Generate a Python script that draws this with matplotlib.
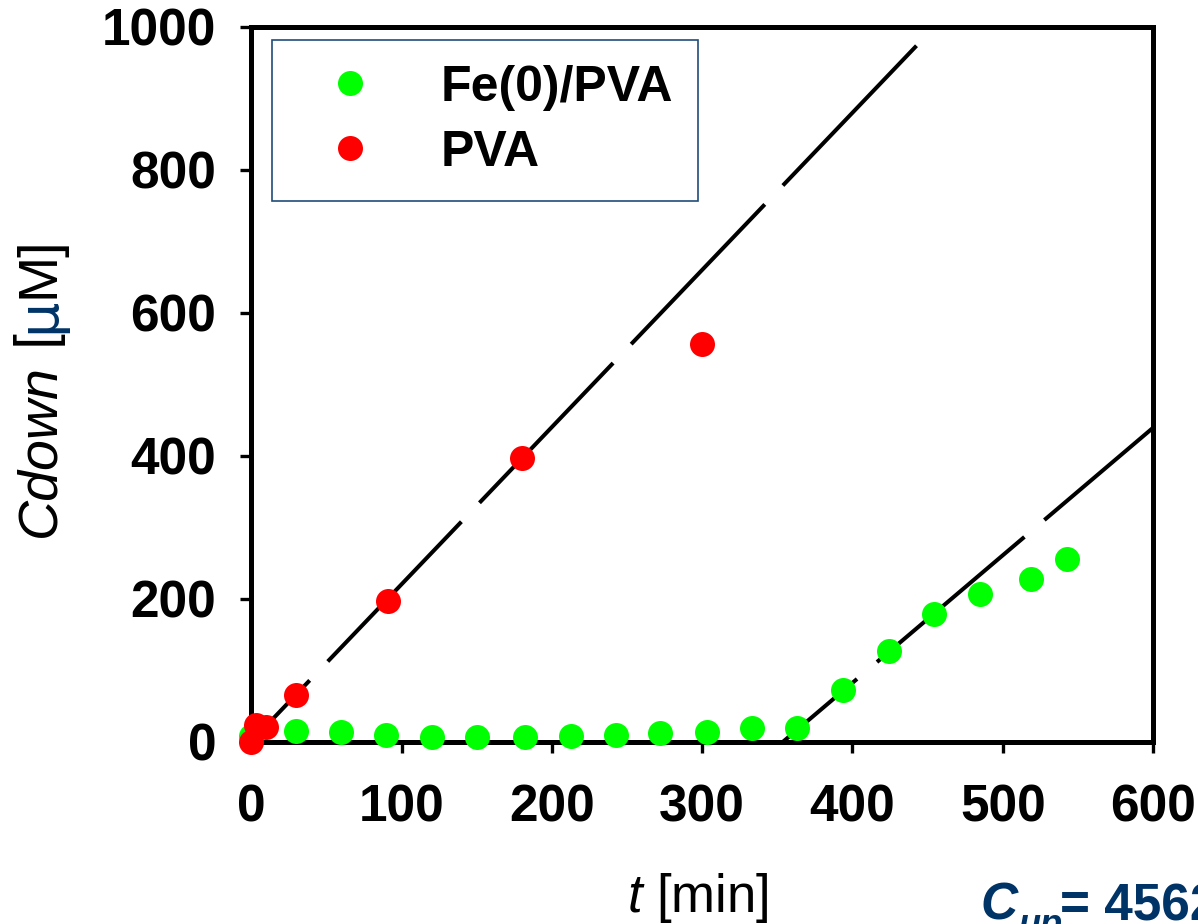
import matplotlib
matplotlib.use("Agg")
import matplotlib.pyplot as plt
import numpy as np

plt.rcParams['font.family'] = ['Liberation Sans', 'DejaVu Sans']
plt.rcParams['mathtext.fontset'] = 'custom'
plt.rcParams['mathtext.it'] = 'Liberation Sans:italic'
plt.rcParams['mathtext.rm'] = 'Liberation Sans'

# Fe(0)/PVA series
t_fe = [0, 30, 60, 90, 120, 150, 182, 213, 243, 272, 303, 333, 363,
        394, 424, 454, 485, 519, 543]
c_fe = [8, 15, 13, 9, 7, 7, 6, 8, 9, 12, 14, 19, 19,
        72, 127, 179, 206, 227, 255]

# PVA series
t_pva = [0, 3, 10, 30, 91, 180, 300]
c_pva = [0, 23, 21, 65, 196, 397, 557]

# dashed fit lines: slope [uM/min] and start time [min]
fit_pva_slope, fit_pva_t0 = 2.2, 0.0
fit_fe_slope, fit_fe_t0 = 1.785, 354.0

xticks = [0, 100, 200, 300, 400, 500, 600]
yticks = [0, 200, 400, 600, 800, 1000]

navy = '#003366'

fig = plt.figure(figsize=(11.98, 9.24), dpi=100)
ax = fig.add_axes([0.2097, 0.1975, 0.7528, 0.7733])

# fit lines
tt = np.array([fit_pva_t0, 600])
ax.plot(tt, fit_pva_slope * (tt - fit_pva_t0), color='black', lw=2.9,
        linestyle=(27, (48, 6.5)), zorder=2)
tt = np.array([fit_fe_t0, 600])
ax.plot(tt, fit_fe_slope * (tt - fit_fe_t0), color='black', lw=2.9,
        linestyle=(24, (48, 6.5)), zorder=2)

ax.plot(t_fe, c_fe, 'o', color='#00ff00', ms=18, mec='none', label='Fe(0)/PVA',
        zorder=3, clip_on=False)
ax.plot(t_pva, c_pva, 'o', color='#ff0000', ms=18, mec='none', label='PVA',
        zorder=4, clip_on=False)

ax.set_xlim(0, 600)
ax.set_ylim(0, 1000)
ax.set_xticks(xticks)
ax.set_yticks(yticks)
for sp in ax.spines.values():
    sp.set_linewidth(3.6)
ax.tick_params(axis='x', direction='out', length=8, width=2.4, pad=22, labelsize=37)
ax.tick_params(axis='y', direction='out', length=8, width=2.4, pad=17, labelsize=37)
for lab in ax.get_xticklabels() + ax.get_yticklabels():
    lab.set_fontweight('bold')

leg = ax.legend(loc='upper left', bbox_to_anchor=(0.0233, 0.9818), borderaxespad=0,
                prop={'size': 36, 'weight': 'bold'}, frameon=True, fancybox=False,
                framealpha=1, borderpad=0.5, handlelength=2.12, handletextpad=0.74,
                labelspacing=0.38)
leg.get_frame().set_edgecolor('#1F4E79')
leg.get_frame().set_linewidth(1.2)

# x label
fig.text(0.5236, 0.013, r'$t$ [min]', fontsize=38, ha='left', va='baseline')

# y label built from pieces
fig.canvas.draw()
renderer = fig.canvas.get_renderer()
pieces = [('Cdown', 'italic', 'black', ['Liberation Sans']),
          (' [', 'normal', 'black', ['Liberation Sans']),
          ('\u03bc', 'normal', navy, ['DejaVu Sans']),
          ('M]', 'normal', 'black', ['Liberation Sans'])]
ypos = 387
xbase = 54
for txt, style, col, fam in pieces:
    tobj = fig.text(xbase / 1198, ypos / 924, txt, rotation=90, rotation_mode='anchor',
                    ha='left', va='baseline', fontsize=40, style=style, color=col,
                    family=fam)
    bb = tobj.get_window_extent(renderer)
    ypos = bb.y1

# bottom-right annotation (cut off by figure edge)
fig.text(980 / 1198, 4 / 924, 'C', fontsize=37, style='italic', weight='bold',
         color=navy, ha='left', va='baseline')
fig.text(1018 / 1198, -11 / 924, 'up', fontsize=26, style='italic', weight='bold',
         color=navy, ha='left', va='baseline')
fig.text(1060 / 1198, 4 / 924, '= 4562 \u03bcM', fontsize=37, weight='bold',
         color=navy, ha='left', va='baseline')

fig.savefig('out.png', dpi=100)
